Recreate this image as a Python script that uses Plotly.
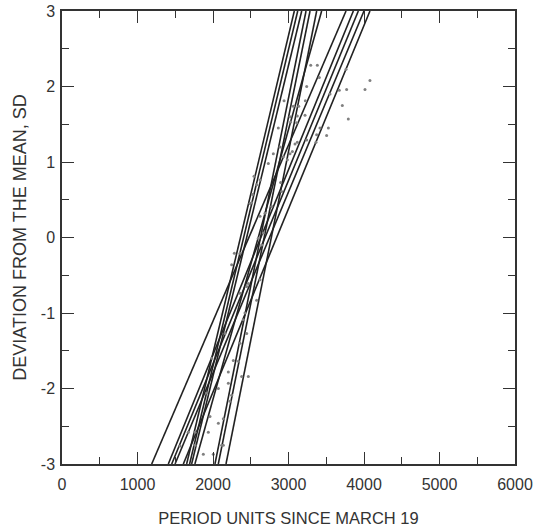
import plotly.graph_objects as go

# Fitted lines: x position (period units) where each line reaches SD = -3 and SD = +3
line_sd = [-3, 3]
line_x_low = [1188, 1408, 1453, 1497, 1607, 1651, 1690, 1717, 1760, 2026, 2070, 2172]
line_x_high = [3762, 3859, 3925, 4000, 4079, 3077, 3122, 3175, 3439, 3232, 3285, 3373]

# Observed points
obs_x = [3294, 3382, 3408, 3241, 3762, 4079, 4013, 3770, 3673, 3550, 3713, 3792,
         3223, 3135, 3064, 3219, 3117, 3108, 3029, 3417, 3528, 3505, 3373, 3364,
         3241, 3117, 3086, 3051, 3020, 2985, 2932, 2865, 2941, 3020, 2887, 2799,
         2733, 2543, 2623, 2578, 2896, 2909, 2525, 2512, 2623, 2777, 2689, 2667,
         2600, 2490, 2283, 2247, 2358, 2645, 2623, 2578, 2446, 2468, 2358, 2424,
         2402, 2446, 2358, 2269, 2336, 2380, 2468, 2203, 2159, 1982, 1916, 2071,
         2203, 2247, 2225, 1960, 2071, 2137, 1673, 1762, 1938, 1762, 2137, 1563,
         1872, 2004, 2115]
obs_sd = [2.28, 2.28, 2.12, 2.00, 2.23, 2.08, 1.96, 1.96, 1.95, 1.90, 1.75, 1.57,
          1.81, 1.74, 1.74, 1.62, 1.61, 1.52, 1.53, 1.45, 1.45, 1.35, 1.36, 1.26,
          1.29, 1.26, 1.24, 1.14, 1.11, 1.03, 1.07, 1.45, 1.81, 1.60, 1.20, 1.11,
          0.98, 0.81, 0.76, 0.70, 0.73, 0.61, 0.57, 0.46, 0.28, 0.41, 0.32, 0.06,
          -0.01, 0.45, -0.21, -0.36, -0.21, -0.10, -0.56, -0.83, -0.65, -0.61, -0.74, -1.00,
          -1.09, -1.27, -1.40, -1.63, -1.64, -1.84, -1.84, -1.78, -1.27, -1.60, -2.06, -2.00,
          -1.93, -2.09, -2.17, -2.37, -2.46, -2.40, -2.58, -2.58, -2.58, -2.75, -2.75, -2.76,
          -2.87, -2.87, -2.75]

x_ticks = [0, 1000, 2000, 3000, 4000, 5000, 6000]
y_ticks = [-3, -2, -1, 0, 1, 2, 3]
y_tick_labels = ["-3", "-2", "-1", "0", "1", "2", "3"]

fig = go.Figure()
for xl, xh in zip(line_x_low, line_x_high):
    fig.add_trace(go.Scatter(x=[xl, xh], y=line_sd, mode="lines",
                             line=dict(color="#222222", width=1.6),
                             showlegend=False, hoverinfo="skip"))
fig.add_trace(go.Scatter(x=obs_x, y=obs_sd, mode="markers",
                         marker=dict(color="#808080", size=3),
                         showlegend=False))

font = "Liberation Sans, Arial, sans-serif"
axis_common = dict(
    showgrid=False, zeroline=False, showline=True, linecolor="#333333", linewidth=1.5,
    mirror="allticks", ticks="inside", ticklen=12, tickwidth=1.3, tickcolor="#333333",
    tickfont=dict(family=font, size=16, color="#333333"), automargin=False,
)

fig.update_layout(
    width=536, height=527,
    margin=dict(l=62, r=21, t=11, b=63),
    plot_bgcolor="white", paper_bgcolor="white",
    xaxis=dict(range=[0, 6000], tickvals=x_ticks, ticklabelstandoff=5,
               minor=dict(dtick=500, ticklen=7, ticks="inside", tickcolor="#333333", tickwidth=1.3),
               title=dict(text="PERIOD UNITS SINCE MARCH 19",
                          font=dict(family=font, size=16.5, color="#333333"), standoff=22),
               **axis_common),
    yaxis=dict(range=[-3, 3], tickvals=y_ticks, ticktext=y_tick_labels, ticklabelstandoff=2,
               minor=dict(dtick=0.5, ticklen=7, ticks="inside", tickcolor="#333333", tickwidth=1.3),
               title=dict(text="DEVIATION FROM THE MEAN, SD",
                          font=dict(family=font, size=18, color="#333333"), standoff=10),
               **axis_common),
)

fig.write_html("out.html")
